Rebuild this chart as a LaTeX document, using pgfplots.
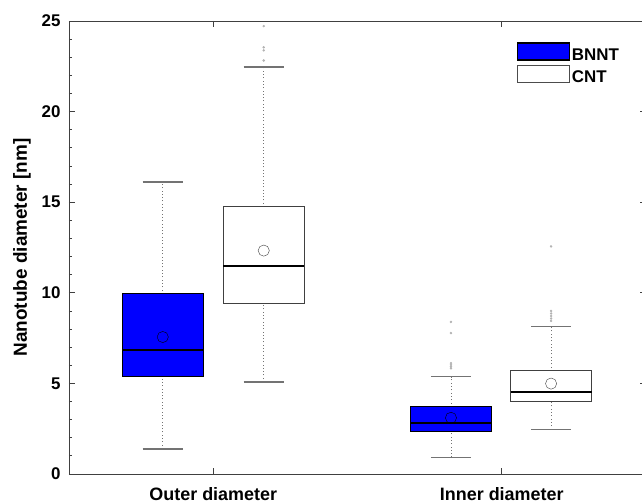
\documentclass[border=0pt]{standalone}
\usepackage{pgfplots}
\pgfplotsset{compat=1.18}
\usepackage{fontspec}
\setmainfont{Liberation Sans}
\usepgfplotslibrary{statistics}
\tikzset{
  wdot/.style={draw=black!55, fill=none, line width=0.9bp, dash pattern=on 0.9bp off 2.4bp},
  wcap/.style={draw=black!55, fill=none, line width=1.6bp},
}
\begin{document}
\begin{tikzpicture}
\begin{axis}[
  at={(0,0)}, anchor=south west,
  scale only axis, width=577bp, height=453bp,
  xmin=0.5, xmax=2.5, ymin=0, ymax=25,
  xtick={1,2}, xticklabels={Outer diameter, Inner diameter},
  ytick={0,5,10,15,20,25},
  minor y tick num=4,
  tick align=inside,
  major tick length=6bp, minor tick length=3bp,
  axis line style={black!75, line width=0.9bp},
  tick style={black!75, line width=0.8bp},
  /pgf/number format/assume math mode=true,
  yticklabel style={font=\bfseries\fontsize{17}{17}\selectfont, xshift=-5bp},
  xticklabel style={font=\bfseries\fontsize{18}{18}\selectfont, yshift=-9.5bp},
  ylabel={Nanotube diameter [nm]},
  ylabel style={font=\bfseries\fontsize{19}{19}\selectfont, yshift=4bp},
  boxplot/draw direction=y,
  boxplot/every box/.style={line width=1.1bp},
  boxplot/every median/.style={draw=black, fill=none, line width=2bp},
  boxplot/every average/.style={/tikz/mark=o, /tikz/mark size=5.6bp, draw=black, fill=none, line width=1.2bp},
  boxplot/draw/lower whisker/.code={%
    \draw[wdot] (boxplot box cs:\pgfplotsboxplotvalue{lower whisker},0.5) -- (boxplot box cs:\pgfplotsboxplotvalue{lower quartile},0.5);
    \draw[wcap] (boxplot whisker cs:\pgfplotsboxplotvalue{lower whisker},0) -- (boxplot whisker cs:\pgfplotsboxplotvalue{lower whisker},1);
  },
  boxplot/draw/upper whisker/.code={%
    \draw[wdot] (boxplot box cs:\pgfplotsboxplotvalue{upper quartile},0.5) -- (boxplot box cs:\pgfplotsboxplotvalue{upper whisker},0.5);
    \draw[wcap] (boxplot whisker cs:\pgfplotsboxplotvalue{upper whisker},0) -- (boxplot whisker cs:\pgfplotsboxplotvalue{upper whisker},1);
  },
  legend style={at={(0.7756,0.953)}, anchor=north west, draw=none, fill=none,
    inner sep=0pt, row sep=1bp, font=\bfseries\fontsize{17}{17}\selectfont},
  legend cell align=left,
]
% Outer diameter
\addplot[forget plot, boxplot prepared={draw position=0.825,
  lower whisker=1.39, lower quartile=5.38, median=6.87, upper quartile=9.95,
  upper whisker=16.12, average=7.56, box extend=0.281, whisker extend=0.139},
  fill=blue, draw=black, mark=*, mark size=1bp, mark options={draw=black!30, fill=black!30}]
  coordinates {};
\addplot[forget plot, boxplot prepared={draw position=1.175,
  lower whisker=5.08, lower quartile=9.42, median=11.49, upper quartile=14.74,
  upper whisker=22.47, average=12.33, box extend=0.281, whisker extend=0.139},
  fill=white, draw=black!75, mark=*, mark size=1bp, mark options={draw=black!30, fill=black!30}]
  coordinates {(0,24.72) (0,23.55) (0,23.38) (0,22.82)};
% Inner diameter
\addplot[forget plot, boxplot prepared={draw position=1.824,
  lower whisker=0.92, lower quartile=2.33, median=2.83, upper quartile=3.71,
  upper whisker=5.38, average=3.10, box extend=0.281, whisker extend=0.139},
  fill=blue, draw=black, mark=*, mark size=1bp, mark options={draw=black!30, fill=black!30}]
  coordinates {(0,8.39) (0,7.78) (0,6.12) (0,6.02) (0,5.92) (0,5.83)};
\addplot[forget plot, boxplot prepared={draw position=2.171,
  lower whisker=2.46, lower quartile=4.02, median=4.53, upper quartile=5.69,
  upper whisker=8.15, average=4.99, box extend=0.281, whisker extend=0.139},
  fill=white, draw=black!75, mark=*, mark size=1bp, mark options={draw=black!30, fill=black!30}]
  coordinates {(0,12.56) (0,9.0) (0,8.86) (0,8.72) (0,8.58) (0,8.45)};
\addlegendimage{legend image code/.code={\draw[fill=blue, draw=black, line width=1.1bp] (0bp,-5bp) rectangle (52bp,12bp);}}
\addlegendentry{BNNT}
\addlegendimage{legend image code/.code={\draw[fill=white, draw=black!70, line width=1.1bp] (0bp,-5bp) rectangle (52bp,12bp);}}
\addlegendentry{CNT}
\end{axis}
\pgfresetboundingbox
\useasboundingbox (-69bp,-30bp) rectangle (573bp,474bp);
\end{tikzpicture}
\end{document}
